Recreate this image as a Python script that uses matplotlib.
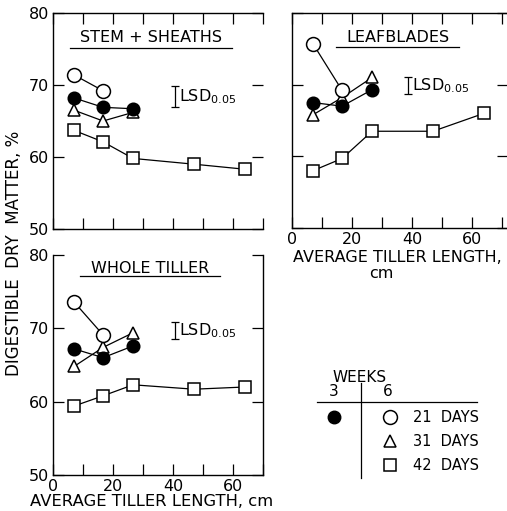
import matplotlib.pyplot as plt

plt.rcParams['font.family'] = ['DejaVu Sans']

# average tiller length, cm
tiller_len = [7, 16.7, 26.7, 47, 64]

# digestible dry matter, %  (6 weeks: 21/31/42 days, 3 weeks: filled)
stem_21 = [71.4, 69.2]
stem_31 = [66.5, 65.0, 66.2]
stem_42 = [63.7, 62.1, 59.8, 59.0, 58.3]
stem_3w = [68.2, 66.9, 66.7]

leaf_21 = [75.7, 69.2]
leaf_31 = [65.8, 68.2, 71.0]
leaf_42 = [58.0, 59.7, 63.5, 63.5, 66.0]
leaf_3w = [67.5, 67.0, 69.3]

whole_21 = [73.6, 69.1]
whole_31 = [64.8, 67.4, 69.4]
whole_42 = [59.4, 60.8, 62.3, 61.7, 62.0]
whole_3w = [67.2, 66.0, 67.6]

# LSD bars: (x, centre, half length)
lsd_stem = (40.7, 68.4, 1.45)
lsd_leaf = (38.7, 69.9, 1.2)
lsd_whole = (40.7, 69.7, 1.15)

W, H = 507, 511
fig = plt.figure(figsize=(W / 100, H / 100), dpi=100)


def box(l, t, r, b):
    return [l / W, 1 - b / H, (r - l) / W, (b - t) / H]


def draw_panel(ax, d21, d31, d42, d3w, lsd, title, tx, ty, xmax=70):
    kw = dict(color='black', lw=0.9, mec='black', mew=1.1)
    ax.plot(tiller_len[:len(d42)], d42, marker='s', ms=8, mfc='white', **kw)
    ax.plot(tiller_len[:len(d31)], d31, marker='^', ms=9, mfc='white', **kw)
    ax.plot(tiller_len[:len(d3w)], d3w, marker='o', ms=9, mfc='black', **kw)
    ax.plot(tiller_len[:len(d21)], d21, marker='o', ms=10, mfc='white', **kw)
    x, c, h = lsd
    ax.errorbar([x], [c], yerr=[h], color='black', lw=0.9, capsize=3, capthick=0.9)
    ax.text(x + 1.2, c, r'LSD$_{0.05}$', fontsize=11.5, va='center', ha='left')
    ax.text(tx, ty, title, fontsize=11.5, ha='center', va='center')
    ax.set_xlim(0, xmax)
    ax.set_ylim(50, 80)
    ax.set_xticks(range(0, 71, 10))
    ax.set_yticks([50, 60, 70, 80])
    ax.tick_params(direction='in', length=8, width=0.9, top=True, right=True,
                   labelsize=11.5, pad=3)
    for s in ax.spines.values():
        s.set_linewidth(1.0)


def underline(ax, x0, x1, y):
    ax.plot([x0, x1], [y, y], color='black', lw=0.9, clip_on=False)


# top-left: stem + sheaths
ax1 = fig.add_axes(box(53, 13, 263, 229))
draw_panel(ax1, stem_21, stem_31, stem_42, stem_3w, lsd_stem, 'STEM + SHEATHS', 32.5, 76.6)
underline(ax1, 5.7, 59.7, 75.2)
ax1.set_xticklabels([])
ax1.spines['right'].set_visible(False)

# top-right: leafblades
ax2 = fig.add_axes(box(292, 13, 508, 228))
draw_panel(ax2, leaf_21, leaf_31, leaf_42, leaf_3w, lsd_leaf, 'LEAFBLADES', 35.3, 76.6, xmax=72)
underline(ax2, 14.7, 55.7, 75.2)
ax2.set_xticks(range(0, 71, 10))
ax2.set_xticklabels(['0', '', '20', '', '40', '', '60', ''])
ax2.set_yticklabels([])
ax2.spines['right'].set_visible(False)
ax2.tick_params(labelright=False)
fig.text(397 / W, 1 - 258 / H, 'AVERAGE TILLER LENGTH,', fontsize=11.5,
         ha='center', va='center')
fig.text(381 / W, 1 - 273 / H, 'cm', fontsize=11.5, ha='center', va='center')

# bottom-left: whole tiller
ax3 = fig.add_axes(box(53, 255, 263, 475))
draw_panel(ax3, whole_21, whole_31, whole_42, whole_3w, lsd_whole, 'WHOLE TILLER', 32.3, 78.2)
underline(ax3, 9, 55.7, 77.1)
ax3.set_xticklabels(['0', '', '20', '', '40', '', '60', ''])
ax3.spines['top'].set_visible(False)
ax3.tick_params(top=False)
fig.text(152 / W, 1 - 501 / H, 'AVERAGE TILLER LENGTH, cm', fontsize=11.8,
         ha='center', va='center')

fig.text(14 / W, 1 - 253 / H, 'DIGESTIBLE  DRY  MATTER, %', rotation=90,
         fontsize=12, ha='center', va='center')

# legend table
lg = fig.add_axes(box(300, 365, 490, 485))
lg.set_xlim(300, 490)
lg.set_ylim(485, 365)
lg.axis('off')
lg.text(360, 378, 'WEEKS', fontsize=11, ha='center', va='center')
lg.text(334, 392, '3', fontsize=11, ha='center', va='center')
lg.text(388, 392, '6', fontsize=11, ha='center', va='center')
lg.plot([317, 477], [402, 402], color='black', lw=0.9)
lg.plot([361, 361], [383, 478], color='black', lw=0.9)
lg.plot([334], [417], marker='o', ms=9, mfc='black', mec='black', color='black')
rows = [('o', 10, '21  DAYS', 417), ('^', 9, '31  DAYS', 441), ('s', 8, '42  DAYS', 465)]
for m, ms, lab, y in rows:
    lg.plot([390], [y], marker=m, ms=ms, mfc='white', mec='black', mew=1.1)
    lg.text(413, y, lab, fontsize=10.5, ha='left', va='center')

fig.savefig('out.png', dpi=100)
